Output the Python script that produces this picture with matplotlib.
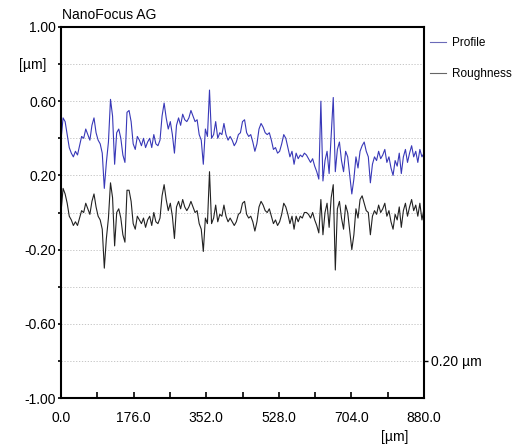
# NanoFocus profile / roughness plot
import matplotlib
matplotlib.use("Agg")
import matplotlib.pyplot as plt
import numpy as np

plt.rcParams['font.family'] = ['Liberation Sans', 'DejaVu Sans']

# profile samples every 5 um, 0..880 um
profile = [
    0.39, 0.51, 0.49, 0.42, 0.35, 0.32, 0.30, 0.33, 0.31, 0.36,
    0.41, 0.40, 0.45, 0.42, 0.39, 0.47, 0.51, 0.43, 0.39, 0.37,
    0.32, 0.13, 0.27, 0.38, 0.61, 0.52, 0.26, 0.43, 0.45, 0.40,
    0.31, 0.27, 0.54, 0.55, 0.49, 0.37, 0.34, 0.41, 0.39, 0.36,
    0.40, 0.35, 0.38, 0.40, 0.35, 0.42, 0.37, 0.36, 0.39, 0.52,
    0.59, 0.51, 0.45, 0.49, 0.42, 0.32, 0.47, 0.51, 0.47, 0.53,
    0.50, 0.49, 0.51, 0.55, 0.52, 0.49, 0.50, 0.42, 0.39, 0.26,
    0.45, 0.41, 0.66, 0.40, 0.42, 0.49, 0.40, 0.43, 0.42, 0.48,
    0.42, 0.39, 0.41, 0.39, 0.36, 0.38, 0.42, 0.43, 0.49, 0.50,
    0.43, 0.41, 0.42, 0.38, 0.33, 0.37, 0.45, 0.48, 0.46, 0.43,
    0.42, 0.43, 0.39, 0.34, 0.35, 0.32, 0.33, 0.37, 0.42, 0.40,
    0.35, 0.30, 0.33, 0.26, 0.32, 0.29, 0.31, 0.30, 0.32, 0.31,
    0.29, 0.27, 0.29, 0.25, 0.22, 0.18, 0.60, 0.17, 0.28, 0.33,
    0.21, 0.42, 0.62, 0.22, 0.34, 0.38, 0.28, 0.22, 0.33, 0.30,
    0.20, 0.10, 0.18, 0.30, 0.24, 0.33, 0.36, 0.38, 0.33, 0.30,
    0.16, 0.26, 0.30, 0.28, 0.33, 0.29, 0.31, 0.34, 0.27, 0.30,
    0.24, 0.20, 0.28, 0.25, 0.32, 0.21, 0.30, 0.34, 0.27, 0.32,
    0.36, 0.30, 0.33, 0.27, 0.34, 0.30, 0.32,
]

roughness = [
    0.00, 0.13, 0.10, 0.05, -0.02, -0.04, -0.07, -0.05, -0.07, -0.03,
    0.01, 0.00, 0.05, 0.02, -0.01, 0.06, 0.10, 0.03, -0.02, -0.04,
    -0.09, -0.30, -0.14, -0.03, 0.16, 0.08, -0.18, 0.00, 0.02, -0.03,
    -0.12, -0.16, 0.12, 0.12, 0.06, -0.06, -0.09, -0.02, -0.04, -0.06,
    -0.03, -0.08, -0.04, -0.02, -0.07, 0.00, -0.05, -0.06, -0.03, 0.09,
    0.15, 0.07, 0.01, 0.05, -0.02, -0.14, 0.03, 0.06, 0.02, 0.07,
    0.03, 0.01, 0.03, 0.06, 0.03, 0.00, 0.01, -0.06, -0.09, -0.21,
    -0.03, -0.06, 0.22, -0.06, -0.03, 0.04, -0.05, -0.01, -0.02, 0.04,
    -0.02, -0.05, -0.03, -0.05, -0.07, -0.05, -0.01, 0.00, 0.05, 0.06,
    -0.01, -0.03, -0.02, -0.05, -0.10, -0.05, 0.03, 0.06, 0.04, 0.01,
    0.00, 0.02, -0.02, -0.06, -0.04, -0.07, -0.05, -0.01, 0.05, 0.03,
    -0.01, -0.06, -0.02, -0.09, -0.02, -0.05, -0.02, -0.03, 0.00, 0.00,
    -0.01, -0.03, 0.00, -0.04, -0.07, -0.11, 0.07, -0.12, 0.00, 0.05,
    -0.08, 0.08, 0.15, -0.31, 0.02, 0.06, -0.03, -0.09, 0.04, 0.00,
    -0.10, -0.20, -0.12, 0.02, -0.03, 0.07, 0.09, 0.05, 0.01, 0.00,
    -0.12, -0.02, 0.01, -0.01, 0.04, 0.00, 0.02, 0.05, -0.02, 0.01,
    -0.05, -0.09, -0.01, -0.04, 0.03, -0.08, 0.01, 0.05, -0.02, 0.03,
    0.07, 0.01, 0.04, -0.02, 0.05, -0.04, 0.02,
]

x_um = np.linspace(0, 880, len(profile))

y_ticks = [1.0, 0.8, 0.6, 0.4, 0.2, 0.0, -0.2, -0.4, -0.6, -0.8, -1.0]
y_labels = ["1.00", "", "0.60", "", "0.20", "", "-0.20", "", "-0.60", "", "-1.00"]
x_major = [0, 176, 352, 528, 704, 880]
x_minor = np.arange(0, 881, 88)

fs = 10

fig = plt.figure(figsize=(5.14, 4.46), dpi=100)
ax = fig.add_axes([61/514, 1 - 398/446, 363/514, 371/446])

ax.plot(x_um, profile, color='#3838b8', lw=0.8, label='Profile')
ax.plot(x_um, roughness, color='#222222', lw=0.8, label='Roughness')

ax.set_xlim(0, 880)
ax.set_ylim(-1, 1)

for yv in [0.8, 0.6, 0.4, 0.2, 0.0, -0.2, -0.4, -0.6, -0.8]:
    ax.axhline(yv, color='#bdbdbd', lw=0.6, ls=(0, (1.5, 2)), zorder=0)

ax.set_yticks(y_ticks)
ax.set_yticklabels(y_labels)
ax.set_xticks(x_major)
ax.set_xticklabels(['{:.1f}'.format(v) for v in x_major])
ax.set_xticks(x_minor, minor=True)

ax.tick_params(axis='y', direction='out', length=2.5, width=1.2, labelsize=fs, pad=1)
ax.tick_params(axis='x', which='both', direction='in', length=4, width=1.2,
               labelsize=fs, pad=9)

for s in ax.spines.values():
    s.set_linewidth(1.5)

# scale mark on the right
ax2 = ax.twinx()
ax2.set_ylim(-1, 1)
ax2.set_yticks([-0.8])
ax2.set_yticklabels(['0.20 µm'])
ax2.tick_params(axis='y', direction='out', length=3, width=1.0, labelsize=fs, pad=2)
for s in ax2.spines.values():
    s.set_visible(False)

leg = ax.legend(loc='upper left', bbox_to_anchor=(0.995, 0.995), frameon=False,
                handlelength=1.3, handletextpad=0.5, labelspacing=1.6, fontsize=8.5,
                borderaxespad=0.3)
leg.get_lines()[0].set_color('#6a6ab8')
leg.get_lines()[1].set_color('#666666')

fig.text(62/514, 1 - 15/446, 'NanoFocus AG', fontsize=fs, va='center', ha='left')
fig.text(46/514, 1 - 65/446, '[µm]', fontsize=fs, va='center', ha='right')
fig.text(395/514, 1 - 437/446, '[µm]', fontsize=fs, va='center', ha='center')

fig.savefig('out.png', dpi=100)
